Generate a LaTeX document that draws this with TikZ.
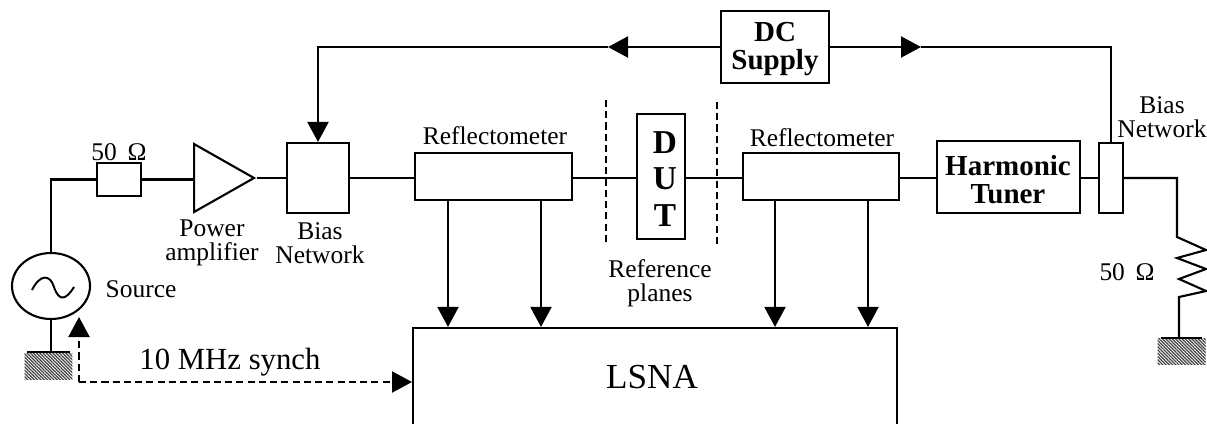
\documentclass[tikz,border=0pt]{standalone}
\usepackage{fontspec}
\setmainfont{Liberation Serif}
\usetikzlibrary{arrows.meta,patterns.meta,shapes.geometric}
\newcommand{\lblfont}{\fontsize{14.5}{13.5}\selectfont}
\tikzset{
    wire/.style={line width=1.2pt},
    sig/.style={wire, -{Triangle[length=0.4cm,width=0.42cm]}},
    dashline/.style={dash pattern=on 4pt off 2.4pt},
    block/.style={draw, line width=1.2pt, inner sep=0pt},
    lbl/.style={inner sep=0pt, align=center, font=\lblfont},
    boldlbl/.style={inner sep=0pt, align=center, font=\fontsize{16.5}{16}\selectfont\bfseries},
    ground/.style={inner sep=0pt, minimum width=0.96cm, minimum height=0.52cm,
        pattern={Lines[angle=-45,distance=1.3pt,line width=0.7pt]}, pattern color=black!75}
}
\begin{document}
\begin{tikzpicture}[x=0.02cm, y=-0.02cm]
    \path[use as bounding box, clip] (0,0) rectangle (1207,423);

    % Source side
    \node[block, ellipse, minimum width=1.56cm, minimum height=1.32cm] (src) at (51,286) {};
    \draw[line width=1.1pt] (32,290) .. controls (40,274) and (50,274) .. (54,287) .. controls (59,302) and (66,300) .. (74,287);
    \node[lbl] (srclbl) at (141,289) {Source};
    \node[ground] (gndl) at (48.5,366) {};
    \draw[wire, shorten >=2pt, shorten <=2pt] (gndl.north west) -- (gndl.north east);
    \draw[wire] (src.south) -- (src.south |- gndl.north);

    % Main line
    \node[block, minimum width=0.88cm, minimum height=0.66cm] (match) at (119,179.5) {};
    \node[lbl] (matchlbl) at (119,152) {50\,\ Ω};
    \node[block, isosceles triangle, isosceles triangle stretches,
        minimum width=1.36cm, minimum height=1.2cm, anchor=lower side] (amp) at (193,178) {};
    \node[lbl] (amplbl) at (212,243) {Power\\amplifier};
    \node[block, minimum width=1.24cm, minimum height=1.4cm] (bias) at (318,178) {};
    \node[lbl] (biaslbl) at (320,243) {Bias\\Network};
    \node[block, minimum width=3.14cm, minimum height=0.94cm] (refa) at (493.5,176.5) {};
    \node[lbl] (refalbl) at (495,136) {Reflectometer};
    \node[block, minimum width=0.96cm, minimum height=2.5cm] (dut) at (661,176.5) {};
    \node[boldlbl, font=\fontsize{19}{21}\selectfont\bfseries] (dutlbl) at (665,179) {D\\U\\T};
    \node[block, minimum width=3.12cm, minimum height=0.94cm] (refb) at (821,176.5) {};
    \node[lbl] (refblbl) at (822,138) {Reflectometer};
    \node[block, minimum width=2.86cm, minimum height=1.44cm] (tuner) at (1008.5,177) {};
    \node[boldlbl] (tunerlbl) at (1008,180) {Harmonic\\Tuner};
    \node[block, minimum width=0.48cm, minimum height=1.4cm] (biasr) at (1111,178) {};
    \node[lbl] (biasrlbl) at (1162,117) {Bias\\Network};

    \draw[wire] (src.north) |- (match.west);
    \draw[wire] (match.east) -- (match.east -| amp.lower side);
    \draw[wire] (amp.apex) -- (bias.west);
    \draw[wire] (bias.east) -- (refa.west |- bias.east);
    \draw[wire] (refa.east |- bias.east) -- (dut.west |- bias.east);
    \draw[wire] (dut.east |- bias.east) -- (refb.west |- bias.east);
    \draw[wire] (refb.east |- bias.east) -- (tuner.west |- bias.east);
    \draw[wire] (tuner.east |- biasr.west) -- (biasr.west);

    % Load
    \coordinate (rtop) at (1177,237);
    \coordinate (rbot) at (1179,297);
    \node[ground] (gndr) at (1181.5,351) {};
    \node[lbl] (loadlbl) at (1127,272) {50\,\ Ω};
    \draw[wire] (biasr.east) -| (rtop) -- (1206,250) -- (1177,258) -- (1206,269) -- (1179,279) -- (1206,291) -- (rbot) -- (rbot |- gndr.north);
    \draw[wire, shorten >=2pt, shorten <=2pt] (gndr.north west) -- (gndr.north east);

    % DC supply
    \node[block, minimum width=2.16cm, minimum height=1.44cm] (dc) at (775,47) {};
    \node[boldlbl] (dclbl) at (775,49) {DC\\Supply};
    \coordinate (tipl) at (608,47);
    \coordinate (tipr) at (921,47);
    \draw[sig] (dc.west) -- (tipl);
    \draw[sig] (tipl) -| (bias.north);
    \draw[sig] (dc.east) -- (tipr);
    \draw[wire] (tipr) -| (biasr.north);

    % LSNA
    \node[block, minimum width=9.68cm, minimum height=2cm] (lsna) at (655,378) {};
    \node[inner sep=0pt, font=\fontsize{20}{22}\selectfont] (lsnalbl) at (652,377) {LSNA};
    \foreach \i/\xpos/\src in {1/448/refa, 2/541/refa, 3/775/refb, 4/868/refb} {
        \coordinate (tap\i) at (\xpos,0);
        \draw[sig] (tap\i |- \src.south) -- (tap\i |- lsna.north);
    }

    % Reference planes
    \coordinate (pla) at (606,100);
    \coordinate (plb) at (606,245);
    \coordinate (plc) at (717,102);
    \coordinate (pld) at (717,247);
    \draw[wire, dashline] (pla) -- (plb);
    \draw[wire, dashline] (plc) -- (pld);
    \node[lbl] (planelbl) at (660,283) {Reference\\planes};

    % Synch
    \coordinate (syncorner) at (79,382);
    \draw[sig, dashline] (syncorner) -- (79,317);
    \draw[sig, dashline] (syncorner) -- (lsna.west |- syncorner);
    \node[inner sep=0pt, font=\fontsize{17.5}{19}\selectfont] (synclbl) at (230,362) {10 MHz synch};
\end{tikzpicture}
\end{document}
